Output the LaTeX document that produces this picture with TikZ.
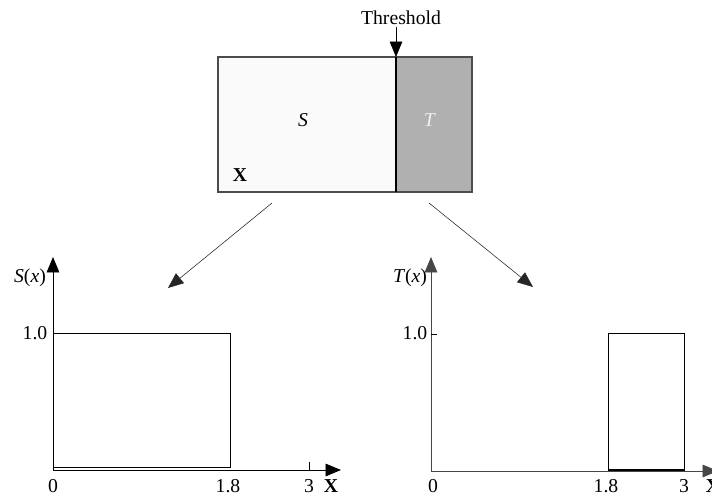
\documentclass[tikz,border=0pt]{standalone}
\usepackage{fontspec}
\setmainfont{Liberation Serif}
\usetikzlibrary{arrows.meta}
\begin{document}
\begin{tikzpicture}[x=0.025cm, y=-0.025cm, >={Triangle[length=11pt, width=9pt]},
    every node/.style={font=\fontsize{14}{16}\selectfont, inner sep=1pt}]
    \useasboundingbox (0,0) rectangle (712,497);
    % the set X split at the threshold
    \fill[gray!4] (218,57) rectangle (396,192);
    \fill[gray!62] (396,57) rectangle (472,192);
    \draw[gray!60!black, thick] (218,57) rectangle (472,192);
    \draw[very thick] (396,57) -- (396,192);
    \node (S) at (303,120) {\textit{S}};
    \node[gray!12] (T) at (430,120) {\textit{T}};
    \node (X) at (240,175) {\textbf{X}};
    \node (thr) at (401,18) {Threshold};
    \coordinate (cut) at (396,57);
    \draw[->] (thr.south -| cut) -- (cut);
    % split arrows
    \coordinate (L0) at (272,203);
    \coordinate (L1) at (168,288);
    \coordinate (R0) at (429,203);
    \coordinate (R1) at (533,287);
    \draw[->, gray!30!black] (L0) -- (L1);
    \draw[->, gray!30!black] (R0) -- (R1);
    % S(x)
    \coordinate (O1) at (53,470);
    \coordinate (Sy) at (53,257);
    \coordinate (Sx) at (341,470);
    \draw[->, semithick] (O1) -- (Sy);
    \draw[->, semithick] (O1) -- (Sx);
    \node (Slab) at (30,278) {\textit{S}(\textit{x})};
    \node (S1) at (35,333) {1.0};
    \draw[semithick] (53,333) rectangle (230,467.5);
    \draw (309,462) -- (309,470);
    \node (S0) at (53,486) {0};
    \node (S18) at (228,486) {1.8};
    \node (S3) at (309,486) {3};
    \node (SX) at (331,486) {\textbf{X}};
    % T(x)
    \coordinate (O2) at (431,471);
    \coordinate (Ty) at (431,257);
    \coordinate (Tx) at (718,471);
    \draw[->, semithick, gray!55!black] (O2) -- (Ty);
    \draw[->, semithick, gray!55!black] (O2) -- (Tx);
    \node (Tlab) at (410,278) {\textit{T}(\textit{x})};
    \node (T1) at (415,333) {1.0};
    \draw (431,334) -- (437,334);
    \draw[semithick] (608,471) -- (608,333) -- (684,333) -- (684,471);
    \draw[thick] (608,470) -- (684,470);
    \node (T0) at (433,486) {0};
    \node (T18) at (606,486) {1.8};
    \node (T3) at (684,486) {3};
    \node (TX) at (713,486) {\textbf{X}};
\end{tikzpicture}
\end{document}
